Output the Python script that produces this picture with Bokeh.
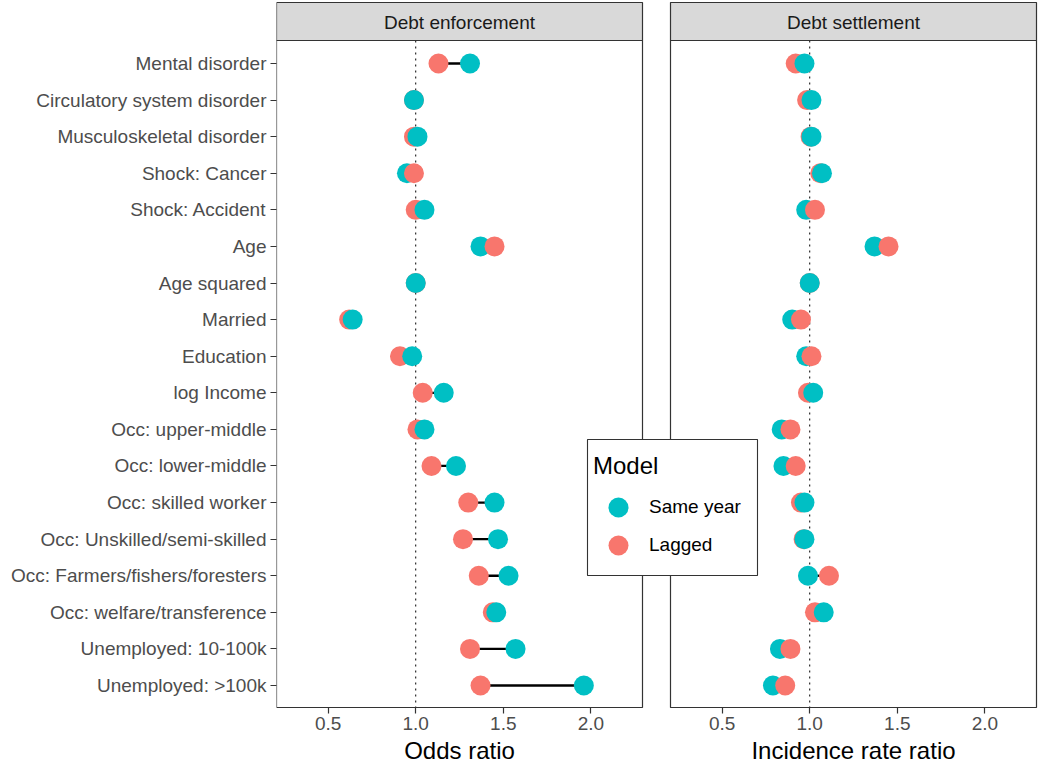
import numpy as np
from bokeh.plotting import figure
from bokeh.models import (ColumnDataSource, Range1d, LinearAxis, FixedTicker,
                          Legend, LegendItem)
from bokeh.core.properties import value
from bokeh.embed import file_html
from bokeh.resources import INLINE

# ---------------- data ----------------
VARIABLES = [
    "Mental disorder", "Circulatory system disorder", "Musculoskeletal disorder",
    "Shock: Cancer", "Shock: Accident", "Age", "Age squared", "Married",
    "Education", "log Income", "Occ: upper-middle", "Occ: lower-middle",
    "Occ: skilled worker", "Occ: Unskilled/semi-skilled",
    "Occ: Farmers/fishers/foresters", "Occ: welfare/transference",
    "Unemployed: 10-100k", "Unemployed: >100k",
]
PANELS = ["Debt enforcement", "Debt settlement"]
AXIS_TITLES = ["Odds ratio", "Incidence rate ratio"]
MODELS = ["Same year", "Lagged"]
LEGEND_TITLE = "Model"

ENF_SAME = [1.31, 0.99, 1.01, 0.95, 1.05, 1.37, 1.00, 0.64, 0.98, 1.16, 1.05, 1.23,
            1.45, 1.47, 1.53, 1.46, 1.57, 1.96]
ENF_LAG = [1.13, 0.99, 0.99, 0.99, 1.00, 1.45, 1.00, 0.62, 0.91, 1.04, 1.01, 1.09,
           1.30, 1.27, 1.36, 1.44, 1.31, 1.37]
SET_SAME = [0.97, 1.01, 1.01, 1.07, 0.98, 1.37, 1.00, 0.90, 0.98, 1.02, 0.84, 0.85,
            0.97, 0.97, 0.99, 1.08, 0.83, 0.79]
SET_LAG = [0.92, 0.985, 1.005, 1.06, 1.03, 1.45, 1.00, 0.95, 1.01, 0.99, 0.89, 0.92,
           0.95, 0.965, 1.11, 1.03, 0.89, 0.86]

X_TICKS = [0.5, 1.0, 1.5, 2.0]
X_TICK_LABELS = ["0.5", "1.0", "1.5", "2.0"]
X_LIMITS = (0.3, 2.2)
REF_LINE = 1.0

# ---------------- style / layout (pixels) ----------------
TEAL = "#00BFC4"
SALMON = "#F8766D"
FONT = "Liberation Sans"
W, H = 1038, 765
FRAME_LEFT = 276
PANEL_W = 366
PANEL_GAP = 28
STRIP_TOP, STRIP_BOTTOM = 2, 40
PANEL_BOTTOM = 707
ROW0 = 63
ROW_STEP = (PANEL_BOTTOM - 22 - ROW0) / (len(VARIABLES) - 1)
TITLE_Y = 750
LEG_BOX = (587, 757, 439, 575)  # left, right, top, bottom (figure px)

span = X_LIMITS[1] - X_LIMITS[0]
lo, hi = X_LIMITS[0] - 0.05 * span, X_LIMITS[1] + 0.05 * span
scale = PANEL_W / (hi - lo)
frame_w = W - FRAME_LEFT
x_left = Range1d(start=lo, end=lo + frame_w / scale)
r_start = lo - (PANEL_W + PANEL_GAP) / scale
x_right = Range1d(start=r_start, end=r_start + frame_w / scale)
x_px = Range1d(start=FRAME_LEFT, end=W)
y_rows = Range1d(start=(H - ROW0) / ROW_STEP, end=(0 - ROW0) / ROW_STEP)
y_px = Range1d(start=H, end=0)

p = figure(width=W, height=H, x_range=x_left, y_range=y_rows,
           x_axis_type=None, y_axis_type=None, toolbar_location=None,
           output_backend="svg", min_border_left=FRAME_LEFT, min_border_right=0,
           min_border_top=0, min_border_bottom=0, outline_line_color=None,
           background_fill_color="white", border_fill_color="white")
p.title = None
p.extra_x_ranges = {"right": x_right, "pxx": x_px}
p.extra_y_ranges = {"px": y_px}

rows = list(range(len(VARIABLES)))


def point_source(same, lag):
    n = len(VARIABLES)
    vals = np.array(list(same) + list(lag), dtype=float)
    yy = np.array(rows + rows, dtype=float)
    model = [MODELS[0]] * n + [MODELS[1]] * n
    is_same = np.array([1] * n + [0] * n)
    order = np.lexsort((is_same, vals))  # right-most point of a pair drawn last
    colors = [TEAL if m == MODELS[0] else SALMON for m in model]
    return ColumnDataSource(dict(
        x=vals[order], y=yy[order],
        model=[model[i] for i in order],
        color=[colors[i] for i in order]))


point_renderers = []
for k, (same, lag) in enumerate([(ENF_SAME, ENF_LAG), (SET_SAME, SET_LAG)]):
    rng = "default" if k == 0 else "right"
    # strip
    p.quad(left=[lo], right=[hi], top=[STRIP_TOP], bottom=[STRIP_BOTTOM],
           x_range_name=rng, y_range_name="px", fill_color="#D9D9D9",
           line_color="#333333", line_width=1.2)
    p.text(x=[(lo + hi) / 2], y=[(STRIP_TOP + STRIP_BOTTOM) / 2 + 0.5], text=[PANELS[k]],
           x_range_name=rng, y_range_name="px", text_align="center",
           text_baseline="middle", text_font=value(FONT),
           text_font_size=value("19px"), text_color="#1A1A1A")
    # reference line
    p.segment(x0=[REF_LINE], x1=[REF_LINE], y0=[STRIP_BOTTOM], y1=[PANEL_BOTTOM],
              x_range_name=rng, y_range_name="px", line_color="black",
              line_width=1, line_dash="2 4")
    # connecting segments
    seg = ColumnDataSource(dict(x0=same, x1=lag, y=rows))
    p.segment(x0="x0", x1="x1", y0="y", y1="y", source=seg, x_range_name=rng,
              line_color="black", line_width=2.3)
    # points
    src = point_source(same, lag)
    r = p.scatter("x", "y", source=src, size=20, fill_color="color",
                  line_color=None, x_range_name=rng)
    point_renderers.append((r, src))
    # panel border
    p.quad(left=[lo], right=[hi], top=[STRIP_BOTTOM], bottom=[PANEL_BOTTOM],
           x_range_name=rng, y_range_name="px", fill_color=None,
           line_color="#333333", line_width=1.2)
    # x axis
    ax = LinearAxis(x_range_name=rng, y_range_name="px", fixed_location=PANEL_BOTTOM,
                    ticker=FixedTicker(ticks=X_TICKS),
                    major_label_overrides=dict(zip(X_TICKS, X_TICK_LABELS)))
    ax.axis_line_color = None
    ax.major_tick_in = 0
    ax.major_tick_out = 6
    ax.major_tick_line_color = "#333333"
    ax.major_tick_line_width = 1.2
    ax.minor_tick_line_color = None
    ax.major_label_standoff = 3
    ax.major_label_text_font = FONT
    ax.major_label_text_font_size = "19px"
    ax.major_label_text_color = "#4D4D4D"
    p.add_layout(ax, "below")
    # axis title
    p.text(x=[(lo + hi) / 2], y=[TITLE_Y], text=[AXIS_TITLES[k]],
           x_range_name=rng, y_range_name="px", text_align="center",
           text_baseline="middle", text_font=value(FONT),
           text_font_size=value("24px"), text_color="black")

# legend box (white, covers panel borders like ggplot's legend)
p.quad(left=[LEG_BOX[0]], right=[LEG_BOX[1]], top=[LEG_BOX[2]], bottom=[LEG_BOX[3]],
       x_range_name="pxx", y_range_name="px", fill_color="white",
       line_color="#333333", line_width=1.1)

# y axis
yax = LinearAxis(ticker=FixedTicker(ticks=rows),
                 major_label_overrides={i: lab for i, lab in zip(rows, VARIABLES)})
yax.axis_line_color = None
yax.major_tick_in = 0
yax.major_tick_out = 6
yax.major_tick_line_color = "#333333"
yax.major_tick_line_width = 1.2
yax.minor_tick_line_color = None
yax.major_label_standoff = 4
yax.major_label_text_font = FONT
yax.major_label_text_font_size = "19px"
yax.major_label_text_color = "#4D4D4D"
p.add_layout(yax, "left")

# legends (one per item so that the 20px keys sit 38px apart)
r0, src0 = point_renderers[0]
models0 = list(src0.data["model"])


def make_legend(model, title, loc):
    lg = Legend(items=[LegendItem(label=model, renderers=[r0],
                                  index=models0.index(model))],
                location=loc)
    if title:
        lg.title = title
    lg.margin = 0
    lg.padding = 0
    lg.spacing = 0
    lg.glyph_width = 50
    lg.glyph_height = 50
    lg.label_standoff = 6
    lg.label_width = 100
    lg.title_standoff = 2
    lg.title_text_font = FONT
    lg.title_text_font_size = "24px"
    lg.title_text_font_style = "normal"
    lg.title_text_color = "black"
    lg.label_text_font = FONT
    lg.label_text_font_size = "19px"
    lg.label_text_color = "black"
    lg.border_line_color = None
    lg.background_fill_alpha = 0
    return lg


p.add_layout(make_legend(MODELS[0], LEGEND_TITLE, (317, 233)))
p.add_layout(make_legend(MODELS[1], None, (317, 195)))

open("out.html", "w").write(file_html(p, INLINE))
